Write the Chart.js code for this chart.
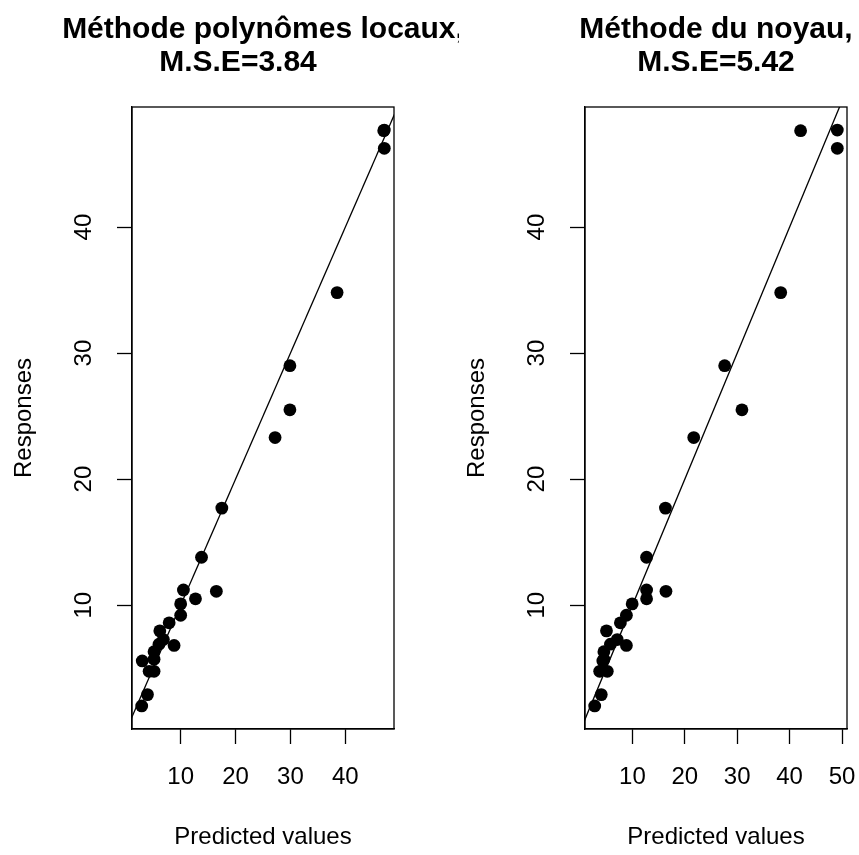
<!DOCTYPE html>
<html lang="fr">
<head>
<meta charset="utf-8">
<title>Predicted values vs Responses</title>
<script src="https://cdn.jsdelivr.net/npm/chart.js@4.4.1/dist/chart.umd.min.js"></script>
<style>
  html, body { margin: 0; padding: 0; background: #fff; overflow: hidden; width: 859px; height: 855px; }
  canvas { position: absolute; top: 0; background: #fff; }
  #local { left: 0; z-index: 1; }
  #kernel { left: 459px; z-index: 2; }
</style>
</head>
<body>
<canvas id="local" width="526" height="855"></canvas>
<canvas id="kernel" width="514" height="855"></canvas>
<script>
"use strict";

// observed responses, same order for both fits
const responses = [47.7, 47.65, 46.25, 34.8, 29.0, 25.5, 23.3, 17.7, 13.8, 11.2, 11.1, 10.5, 10.1,
  9.2, 8.6, 7.96, 7.27, 6.9, 6.8, 6.3, 5.7, 5.57, 4.75, 4.75, 2.9, 2.0];

// local polynomial fit
const predLocal = [47.1, 47.0, 47.1, 38.5, 29.9, 29.9, 27.2, 17.5, 13.8, 10.5, 16.5, 12.7, 10.0,
  10.0, 7.9, 6.2, 6.85, 6.05, 8.8, 5.15, 5.15, 3.0, 4.25, 5.15, 3.95, 2.9];

// kernel fit
const predKernel = [49.1, 42.1, 49.1, 38.3, 27.6, 30.9, 21.7, 16.3, 12.7, 12.7, 16.4, 12.7, 9.95,
  8.85, 7.7, 5.05, 7.1, 5.8, 8.85, 4.55, 4.55, 4.35, 3.75, 5.2, 4.05, 2.8];

const xTicksLocal = [10, 20, 30, 40];
const xTicksKernel = [10, 20, 30, 40, 50];
const yTicks = [10, 20, 30, 40];

// trailing blanks on the second line push it a little to the left, as in the R output
const titleLocal = ["Méthode polynômes locaux,", "M.S.E=3.84\u00a0\u00a0\u00a0\u00a0\u00a0\u00a0"];
const titleKernel = ["Méthode du noyau,", "M.S.E=5.42"];

// y = a + b*x reference line
const refLine = { intercept: 0, slope: 1 };

const family = "'Liberation Sans', Arial, Helvetica, sans-serif";
const ink = "#000";

// R style axis range: data range plus 4% each side
const padRange = (vals) => {
  const lo = Math.min(...vals);
  const hi = Math.max(...vals);
  const d = (hi - lo) * 0.04;
  return [lo - d, hi + d];
};

const frame = {
  id: "frame",
  afterDraw(chart) {
    const { ctx, chartArea: a } = chart;
    ctx.save();
    ctx.strokeStyle = ink;
    ctx.lineWidth = 1.3;
    ctx.strokeRect(a.left, a.top, a.width, a.height);
    ctx.restore();
  },
};

const tickGrid = {
  drawOnChartArea: false,
  drawTicks: true,
  tickLength: 15,
  tickWidth: 1.3,
  tickColor: ink,
  color: ink,
};

function drawPanel(id, preds, xTicks, title, sideWidth, labelGap) {
  const [xMin, xMax] = padRange(preds);
  const [yMin, yMax] = padRange(responses);
  const lo = Math.min(xMin, yMin);
  const hi = Math.max(xMax, yMax);
  const points = preds.map((p, i) => ({ x: p, y: responses[i] }));
  const lineEnds = [lo, hi].map((x) => ({ x: x, y: refLine.intercept + refLine.slope * x }));
  const setTicks = (list) => (scale) => {
    scale.ticks = list.map((v) => ({ value: v }));
  };
  const axisFont = { family: family, size: 24, lineHeight: 1.2 };

  return new Chart(document.getElementById(id), {
    data: {
      datasets: [
        {
          type: "scatter",
          data: points,
          pointRadius: 6.4,
          pointHoverRadius: 6.4,
          backgroundColor: ink,
          borderWidth: 0,
          clip: false,
        },
        {
          type: "line",
          data: lineEnds,
          borderColor: ink,
          borderWidth: 1.3,
          pointRadius: 0,
          fill: false,
          clip: 0,
        },
      ],
    },
    options: {
      responsive: false,
      animation: false,
      events: [],
      layout: { padding: 0 },
      plugins: {
        legend: { display: false },
        tooltip: { enabled: false },
        title: {
          display: true,
          text: title,
          color: ink,
          font: { family: family, size: 30, weight: "bold", lineHeight: 1.1 },
          padding: { top: 13, bottom: 28 },
        },
      },
      scales: {
        x: {
          type: "linear",
          position: "bottom",
          min: xMin,
          max: xMax,
          afterBuildTicks: setTicks(xTicks),
          afterFit: (s) => {
            s.height = 126;
            s.paddingLeft = 0;
            s.paddingRight = 0;
          },
          grid: tickGrid,
          border: { display: true, color: ink, width: 1.3 },
          ticks: { color: ink, font: axisFont, padding: 19, maxRotation: 0, autoSkip: false },
          title: {
            display: true,
            text: "Predicted values",
            color: ink,
            font: axisFont,
            padding: { top: 0, bottom: 3.6 },
          },
        },
        y: {
          type: "linear",
          position: "left",
          min: yMin,
          max: yMax,
          afterBuildTicks: setTicks(yTicks),
          afterFit: (s) => {
            s.width = sideWidth;
            s.paddingTop = 0;
            s.paddingBottom = 0;
          },
          grid: tickGrid,
          border: { display: true, color: ink, width: 1.3 },
          ticks: {
            color: ink,
            font: axisFont,
            padding: 19,
            minRotation: 90,
            maxRotation: 90,
            crossAlign: "center",
            autoSkip: false,
          },
          title: {
            display: true,
            text: "Responses",
            color: ink,
            font: axisFont,
            padding: { top: labelGap, bottom: 0 },
          },
        },
        // empty right side keeps the title centred over the plot box
        spare: {
          type: "linear",
          position: "right",
          display: true,
          ticks: { display: false },
          grid: { display: false },
          border: { display: false },
          afterFit: (s) => {
            s.width = sideWidth;
          },
        },
      },
    },
    plugins: [frame],
  });
}

drawPanel("local", predLocal, xTicksLocal, titleLocal, 132, 9.6);
drawPanel("kernel", predKernel, xTicksKernel, titleKernel, 126, 3.6);
</script>
</body>
</html>
